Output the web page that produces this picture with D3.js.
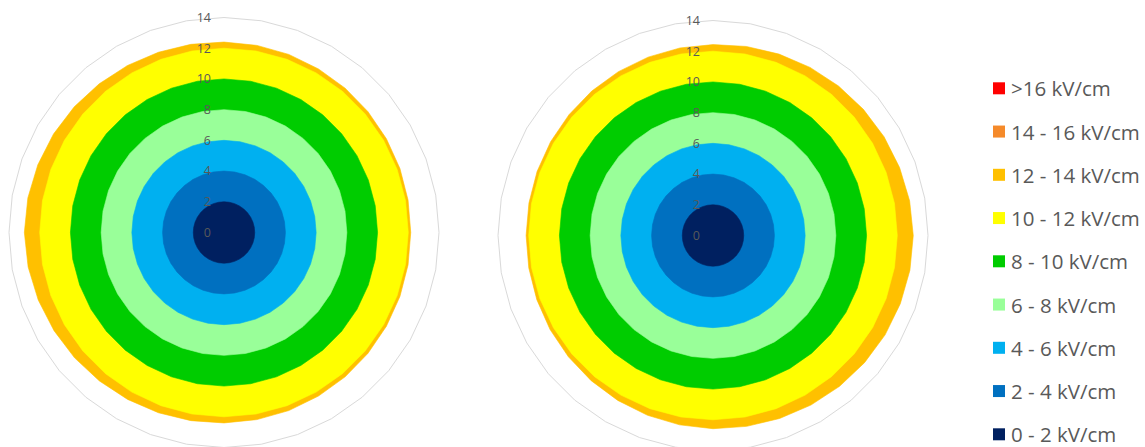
<!DOCTYPE html>
<html>
<head>
<meta charset="utf-8">
<script src="https://cdn.jsdelivr.net/npm/d3@7"></script>
<style>
  html, body { margin: 0; padding: 0; background: #fff; }
  svg { display: block; }
  text { font-family: "Open Sans", "Liberation Sans", sans-serif; fill: #595959; }
</style>
</head>
<body>
<svg id="chart" width="1145" height="447"></svg>
<script>
// Spoke directions (degrees, clockwise from top)
const spokes = [0, 10, 20, 30, 40, 50, 60, 70, 80, 90, 100, 110, 120, 130, 140, 150, 160, 170,
                180, 190, 200, 210, 220, 230, 240, 250, 260, 270, 280, 290, 300, 310, 320, 330, 340, 350];

// Radial axis ticks
const radialTicks = [0, 2, 4, 6, 8, 10, 12, 14];

// Field-strength classes, outermost first
const classLabels = [">16 kV/cm", "14 - 16 kV/cm", "12 - 14 kV/cm", "10 - 12 kV/cm", "8 - 10 kV/cm",
                     "6 - 8 kV/cm", "4 - 6 kV/cm", "2 - 4 kV/cm", "0 - 2 kV/cm"];
const classColors = ["#FF0000", "#F58A2A", "#FFC000", "#FFFF00", "#00CC00",
                     "#99FF99", "#00B0F0", "#0070C0", "#002060"];

// Left conductor: contour radius of each class along every spoke
const leftBand12to14 = [12.40, 12.37, 12.34, 12.30, 12.27, 12.24, 12.21, 12.19, 12.17, 12.16, 12.17, 12.19,
                        12.21, 12.24, 12.27, 12.30, 12.34, 12.37, 12.40, 12.44, 12.49, 12.55, 12.62, 12.70,
                        12.78, 12.87, 12.95, 13.00, 12.97, 12.90, 12.82, 12.73, 12.64, 12.56, 12.49, 12.44];
const leftBand10to12 = [12, 12, 12, 12, 12, 12, 12, 12, 12, 12, 12, 12, 12, 12, 12, 12, 12, 12,
                        12, 12, 12, 12, 12, 12, 12, 12, 12, 12, 12, 12, 12, 12, 12, 12, 12, 12];
const leftBand8to10 =  [10, 10, 10, 10, 10, 10, 10, 10, 10, 10, 10, 10, 10, 10, 10, 10, 10, 10,
                        10, 10, 10, 10, 10, 10, 10, 10, 10, 10, 10, 10, 10, 10, 10, 10, 10, 10];
const leftBand6to8 =   [8, 8, 8, 8, 8, 8, 8, 8, 8, 8, 8, 8, 8, 8, 8, 8, 8, 8,
                        8, 8, 8, 8, 8, 8, 8, 8, 8, 8, 8, 8, 8, 8, 8, 8, 8, 8];
const leftBand4to6 =   [6, 6, 6, 6, 6, 6, 6, 6, 6, 6, 6, 6, 6, 6, 6, 6, 6, 6,
                        6, 6, 6, 6, 6, 6, 6, 6, 6, 6, 6, 6, 6, 6, 6, 6, 6, 6];
const leftBand2to4 =   [4, 4, 4, 4, 4, 4, 4, 4, 4, 4, 4, 4, 4, 4, 4, 4, 4, 4,
                        4, 4, 4, 4, 4, 4, 4, 4, 4, 4, 4, 4, 4, 4, 4, 4, 4, 4];
const leftBand0to2 =   [2, 2, 2, 2, 2, 2, 2, 2, 2, 2, 2, 2, 2, 2, 2, 2, 2, 2,
                        2, 2, 2, 2, 2, 2, 2, 2, 2, 2, 2, 2, 2, 2, 2, 2, 2, 2];

// Right conductor
const rightBand12to14 = [12.43, 12.50, 12.57, 12.64, 12.71, 12.78, 12.86, 12.93, 13.00, 13.04, 13.02, 12.98,
                         12.94, 12.88, 12.82, 12.75, 12.68, 12.62, 12.58, 12.52, 12.46, 12.40, 12.34, 12.29,
                         12.25, 12.21, 12.18, 12.17, 12.17, 12.19, 12.21, 12.24, 12.28, 12.32, 12.36, 12.40];
const rightBand10to12 = [12, 12, 12, 12, 12, 12, 12, 12, 12, 12, 12, 12, 12, 12, 12, 12, 12, 12,
                         12, 12, 12, 12, 12, 12, 12, 12, 12, 12, 12, 12, 12, 12, 12, 12, 12, 12];
const rightBand8to10 =  [10, 10, 10, 10, 10, 10, 10, 10, 10, 10, 10, 10, 10, 10, 10, 10, 10, 10,
                         10, 10, 10, 10, 10, 10, 10, 10, 10, 10, 10, 10, 10, 10, 10, 10, 10, 10];
const rightBand6to8 =   [8, 8, 8, 8, 8, 8, 8, 8, 8, 8, 8, 8, 8, 8, 8, 8, 8, 8,
                         8, 8, 8, 8, 8, 8, 8, 8, 8, 8, 8, 8, 8, 8, 8, 8, 8, 8];
const rightBand4to6 =   [6, 6, 6, 6, 6, 6, 6, 6, 6, 6, 6, 6, 6, 6, 6, 6, 6, 6,
                         6, 6, 6, 6, 6, 6, 6, 6, 6, 6, 6, 6, 6, 6, 6, 6, 6, 6];
const rightBand2to4 =   [4, 4, 4, 4, 4, 4, 4, 4, 4, 4, 4, 4, 4, 4, 4, 4, 4, 4,
                         4, 4, 4, 4, 4, 4, 4, 4, 4, 4, 4, 4, 4, 4, 4, 4, 4, 4];
const rightBand0to2 =   [2, 2, 2, 2, 2, 2, 2, 2, 2, 2, 2, 2, 2, 2, 2, 2, 2, 2,
                         2, 2, 2, 2, 2, 2, 2, 2, 2, 2, 2, 2, 2, 2, 2, 2, 2, 2];

// Series per chart, in class order (the two highest classes are not reached)
const leftSeries  = [null, null, leftBand12to14, leftBand10to12, leftBand8to10,
                     leftBand6to8, leftBand4to6, leftBand2to4, leftBand0to2];
const rightSeries = [null, null, rightBand12to14, rightBand10to12, rightBand8to10,
                     rightBand6to8, rightBand4to6, rightBand2to4, rightBand0to2];

const svg = d3.select("#chart");

const rScale = d3.scaleLinear().domain([0, 14]).range([0, 215]);
const angle = d3.scaleLinear().domain([0, 360]).range([0, 2 * Math.PI]);

function drawRadar(cx, cy, series) {
  const g = svg.append("g").attr("transform", `translate(${cx},${cy})`);

  // gridlines
  const grid = d3.lineRadial()
    .angle(d => angle(d))
    .curve(d3.curveLinearClosed);
  g.selectAll("path.grid")
    .data(radialTicks.filter(t => t > 0))
    .join("path")
    .attr("class", "grid")
    .attr("d", t => grid.radius(() => rScale(t))(spokes))
    .attr("fill", "none")
    .attr("stroke", "#D9D9D9")
    .attr("stroke-width", 1);

  // filled contour areas, outermost first
  const area = d3.lineRadial()
    .angle((d, i) => angle(spokes[i]))
    .radius(d => rScale(d))
    .curve(d3.curveLinearClosed);
  series.forEach((vals, k) => {
    if (!vals) return;
    g.append("path")
      .attr("d", area(vals))
      .attr("fill", classColors[k])
      .attr("stroke", classColors[k])
      .attr("stroke-width", 0.6);
  });

  // radial axis labels
  g.selectAll("text.tick")
    .data(radialTicks)
    .join("text")
    .attr("class", "tick")
    .attr("x", -13)
    .attr("y", t => -rScale(t))
    .attr("dy", "0.35em")
    .attr("text-anchor", "end")
    .attr("font-size", 12.5)
    .text(t => t);
}

drawRadar(224, 232.5, leftSeries);
drawRadar(713, 235.5, rightSeries);

// legend
const legendY = d3.scalePoint().domain(classLabels).range([88.3, 434.3]);
const legend = svg.append("g");
const item = legend.selectAll("g.item")
  .data(classLabels)
  .join("g")
  .attr("class", "item")
  .attr("transform", d => `translate(993,${legendY(d)})`);
item.append("rect")
  .attr("x", 0).attr("y", -6)
  .attr("width", 12).attr("height", 12)
  .attr("fill", (d, i) => classColors[i]);
item.append("text")
  .attr("x", 18)
  .attr("y", 1)
  .attr("dy", "0.35em")
  .attr("font-size", 20.5)
  .text(d => d);
</script>
</body>
</html>
